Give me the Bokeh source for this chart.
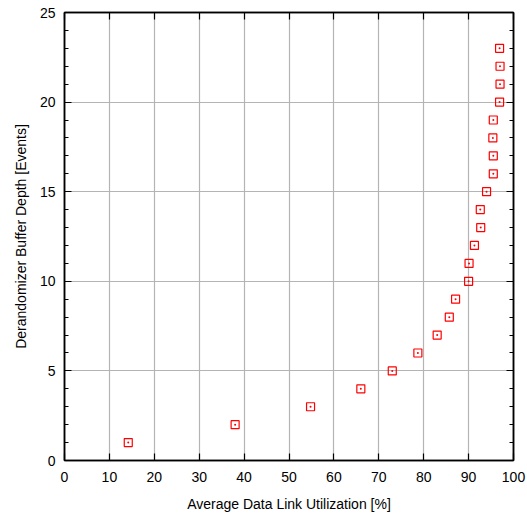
from bokeh.plotting import figure
from bokeh.models import LinearAxis, Range1d, FixedTicker
from bokeh.embed import file_html
from bokeh.resources import INLINE

# Data
utilization = [14.2, 38.0, 54.8, 66.0, 73.0, 78.7, 83.0, 85.7, 87.1, 90.0,
               90.1, 91.3, 92.7, 92.6, 94.0, 95.5, 95.5, 95.4, 95.5, 96.9,
               97.0, 97.0, 96.9]
depth = [1, 2, 3, 4, 5, 6, 7, 8, 9, 10, 11, 12, 13, 14, 15, 16, 17, 18, 19,
         20, 21, 22, 23]

x_ticks = [0, 10, 20, 30, 40, 50, 60, 70, 80, 90, 100]
y_ticks = [0, 5, 10, 15, 20, 25]
y_minor = list(range(0, 26))

FONT = "Liberation Sans"
W, H = 527, 514

p = figure(width=W, height=H, output_backend="svg", toolbar_location=None,
           x_range=Range1d(0, 100), y_range=Range1d(0, 25),
           min_border_left=64, min_border_right=14, min_border_top=12,
           min_border_bottom=54, x_axis_label="Average Data Link Utilization [%]",
           y_axis_label="Derandomizer Buffer Depth [Events]")
p.background_fill_color = "white"
p.border_fill_color = "white"
p.outline_line_color = "black"
p.outline_line_width = 1.5

p.xgrid.ticker = FixedTicker(ticks=x_ticks)
p.ygrid.ticker = FixedTicker(ticks=y_ticks)
for g in (p.xgrid, p.ygrid):
    g.grid_line_color = "#b4b4b4"
    g.grid_line_width = 1.2

def style_axis(ax, labels=True):
    ax.axis_line_color = "black"
    ax.axis_line_width = 1.5
    ax.major_tick_in = 7
    ax.major_tick_out = 0
    ax.major_tick_line_color = "black"
    ax.major_tick_line_width = 1.2
    ax.minor_tick_in = 4
    ax.minor_tick_out = 0
    ax.minor_tick_line_color = "black"
    ax.minor_tick_line_width = 1
    ax.major_label_text_font = FONT
    if labels:
        ax.major_label_text_font_size = "14px"
        ax.major_label_text_color = "black"
    else:
        ax.major_label_text_font_size = "1px"
        ax.major_label_text_color = None
    ax.axis_label_text_font = FONT
    ax.axis_label_text_font_size = "14px"
    ax.axis_label_text_font_style = "normal"
    ax.axis_label_text_color = "black"

xax = p.xaxis[0]
yax = p.yaxis[0]
xax.ticker = FixedTicker(ticks=x_ticks)
yax.ticker = FixedTicker(ticks=y_ticks, minor_ticks=y_minor)
style_axis(xax)
style_axis(yax)
xax.minor_tick_line_color = None
xax.major_label_standoff = 11
xax.axis_label_standoff = 11
yax.major_label_standoff = 9
yax.axis_label_standoff = 8

top = LinearAxis(ticker=FixedTicker(ticks=x_ticks))
right = LinearAxis(ticker=FixedTicker(ticks=y_ticks, minor_ticks=y_minor))
style_axis(top, labels=False)
style_axis(right, labels=False)
top.minor_tick_line_color = None
top.major_label_standoff = 0
right.major_label_standoff = 0
p.add_layout(top, "above")
p.add_layout(right, "right")

p.scatter(utilization, depth, marker="square_dot", size=8,
          line_color="#ff0000", line_width=1.2, fill_color=None)

open("out.html", "w").write(file_html(p, INLINE))
